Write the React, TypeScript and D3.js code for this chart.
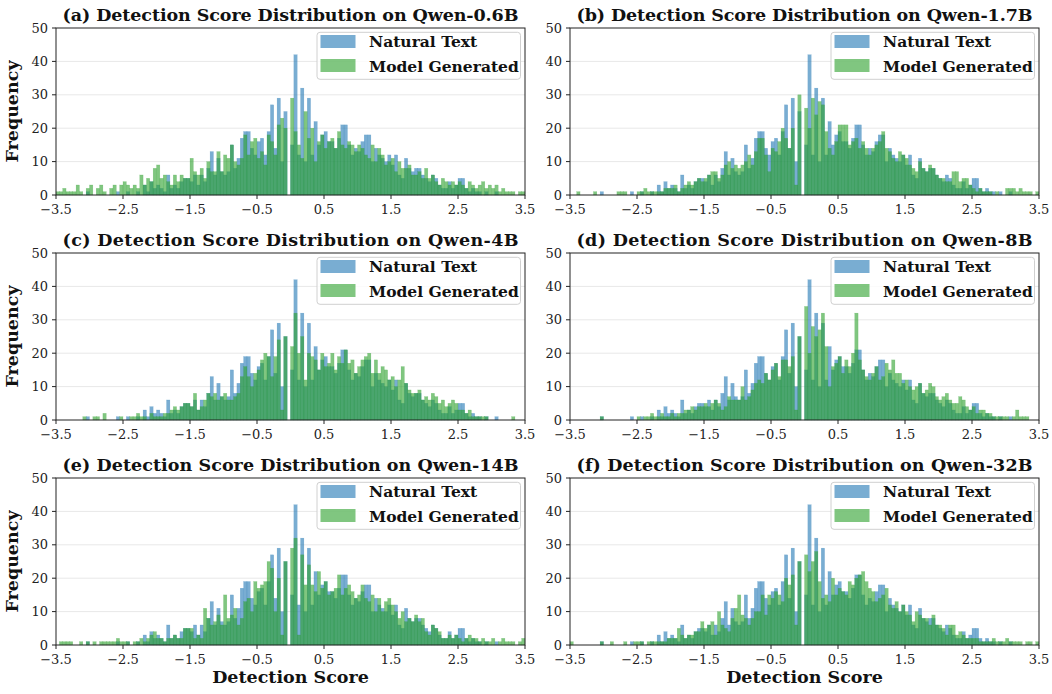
import React from "react";
import * as d3 from "d3";

// histogram bins: 140 bins of width 0.05 from -3.5 to 3.5
const binStart = -3.5;
const binWidth = 0.05;

const models = ["Qwen-0.6B", "Qwen-1.7B", "Qwen-4B", "Qwen-8B", "Qwen-14B", "Qwen-32B"];
const panelTags = ["(a)", "(b)", "(c)", "(d)", "(e)", "(f)"];
const xTicks = [-3.5, -2.5, -1.5, -0.5, 0.5, 1.5, 2.5, 3.5];
const yTicks = [0, 10, 20, 30, 40, 50];

// natural text counts (same in every panel)
const natural = [
  0, 0, 0, 0, 0, 0, 0, 0, 0, 1,
  0, 0, 0, 0, 0, 0, 0, 0, 1, 0,
  0, 1, 0, 0, 1, 0, 3, 1, 4, 2,
  3, 2, 1, 6, 2, 3, 2, 4, 5, 5,
  4, 6, 3, 6, 4, 8, 13, 6, 11, 7,
  6, 7, 15, 8, 11, 17, 19, 19, 14, 12,
  16, 17, 12, 19, 27, 14, 29, 10, 25, 0,
  15, 42, 12, 32, 10, 29, 12, 22, 15, 18,
  19, 16, 16, 14, 17, 21, 21, 15, 12, 14,
  13, 16, 18, 18, 10, 14, 12, 11, 10, 12,
  9, 12, 6, 5, 11, 8, 7, 8, 8, 6,
  5, 4, 6, 5, 3, 2, 2, 4, 2, 3,
  5, 5, 2, 1, 2, 1, 1, 0, 1, 0,
  0, 1, 0, 0, 0, 0, 0, 0, 0, 0,
];

const generated06B = [
  1, 1, 2, 1, 1, 1, 3, 1, 0, 2,
  3, 0, 2, 3, 1, 0, 2, 3, 0, 3,
  4, 3, 2, 3, 2, 6, 3, 5, 4, 8,
  9, 5, 6, 4, 3, 6, 4, 6, 5, 5,
  11, 7, 6, 8, 5, 10, 7, 7, 13, 7,
  12, 11, 15, 10, 9, 11, 18, 12, 16, 17,
  11, 13, 9, 18, 16, 12, 21, 23, 20, 0,
  29, 19, 15, 11, 25, 17, 20, 10, 16, 18,
  14, 16, 17, 14, 19, 15, 14, 16, 15, 13,
  15, 14, 12, 11, 15, 10, 14, 12, 9, 10,
  11, 7, 10, 8, 8, 9, 6, 6, 7, 5,
  8, 5, 6, 4, 3, 5, 4, 3, 4, 3,
  4, 3, 2, 4, 3, 2, 3, 4, 2, 3,
  2, 3, 1, 2, 1, 1, 1, 0, 1, 1,
];

const generated17B = [
  0, 0, 1, 0, 0, 0, 0, 1, 0, 0,
  0, 0, 0, 0, 1, 1, 1, 0, 0, 0,
  1, 1, 2, 1, 1, 1, 1, 1, 2, 2,
  2, 3, 1, 2, 3, 4, 3, 4, 5, 4,
  5, 6, 7, 7, 5, 6, 9, 10, 8, 9,
  8, 9, 10, 12, 9, 13, 17, 17, 12, 7,
  14, 13, 16, 20, 17, 14, 20, 3, 30, 0,
  26, 20, 29, 24, 28, 27, 19, 14, 12, 16,
  21, 21, 21, 15, 16, 17, 14, 16, 14, 12,
  14, 15, 16, 19, 14, 13, 11, 10, 13, 12,
  11, 9, 8, 7, 10, 8, 7, 9, 8, 6,
  5, 5, 4, 4, 7, 7, 4, 5, 5, 3,
  2, 1, 2, 1, 1, 1, 0, 1, 0, 0,
  2, 2, 2, 1, 2, 1, 1, 1, 0, 1,
];

const generated4B = [
  0, 0, 0, 0, 0, 0, 0, 0, 1, 0,
  0, 1, 1, 0, 2, 0, 0, 0, 0, 1,
  0, 0, 1, 1, 2, 1, 1, 0, 2, 1,
  1, 1, 2, 2, 3, 4, 3, 4, 5, 5,
  4, 8, 3, 4, 6, 8, 7, 8, 6, 7,
  8, 6, 6, 7, 8, 13, 16, 13, 10, 14,
  15, 18, 20, 19, 13, 19, 24, 3, 25, 0,
  22, 32, 20, 25, 12, 20, 19, 18, 15, 20,
  16, 17, 20, 15, 19, 17, 21, 17, 18, 14,
  16, 18, 19, 20, 14, 18, 14, 16, 15, 12,
  13, 10, 12, 16, 11, 9, 8, 8, 9, 6,
  7, 6, 8, 7, 5, 6, 4, 5, 6, 5,
  3, 3, 2, 3, 1, 1, 1, 1, 1, 0,
  0, 0, 0, 0, 0, 0, 1, 0, 0, 0,
];

const generated8B = [
  0, 0, 0, 0, 0, 0, 0, 0, 0, 1,
  0, 0, 0, 0, 0, 0, 0, 0, 0, 0,
  1, 0, 1, 1, 2, 1, 1, 2, 1, 1,
  2, 1, 2, 2, 3, 3, 4, 3, 4, 4,
  5, 4, 5, 6, 5, 3, 4, 7, 6, 6,
  6, 10, 6, 7, 9, 11, 12, 11, 14, 12,
  15, 17, 13, 18, 18, 16, 19, 3, 25, 0,
  34, 20, 28, 25, 27, 32, 22, 10, 16, 17,
  19, 14, 18, 16, 20, 32, 18, 15, 13, 12,
  14, 16, 12, 13, 17, 15, 18, 14, 14, 11,
  12, 10, 9, 10, 11, 8, 9, 11, 10, 7,
  6, 7, 8, 6, 5, 5, 7, 6, 4, 3,
  4, 2, 3, 3, 2, 2, 1, 1, 1, 1,
  1, 0, 1, 3, 1, 1, 1, 0, 0, 0,
];

const generated14B = [
  0, 1, 1, 1, 1, 0, 0, 1, 0, 1,
  0, 1, 0, 1, 1, 1, 1, 1, 2, 1,
  1, 1, 0, 1, 1, 2, 1, 2, 3, 4,
  2, 2, 1, 2, 2, 3, 2, 2, 5, 5,
  5, 2, 3, 2, 11, 8, 6, 7, 9, 6,
  15, 8, 9, 11, 6, 8, 13, 14, 10, 19,
  17, 18, 19, 25, 23, 10, 20, 3, 25, 0,
  29, 32, 3, 27, 18, 24, 18, 16, 22, 17,
  19, 15, 16, 17, 21, 15, 17, 18, 16, 14,
  15, 18, 14, 13, 15, 10, 14, 10, 13, 14,
  12, 10, 8, 10, 7, 8, 7, 9, 7, 8,
  4, 3, 6, 5, 4, 2, 2, 3, 2, 3,
  2, 1, 2, 3, 2, 2, 1, 2, 1, 1,
  2, 0, 1, 2, 1, 1, 1, 0, 1, 2,
];

const generated32B = [
  1, 0, 0, 0, 0, 0, 0, 0, 0, 1,
  0, 0, 1, 0, 0, 0, 1, 0, 0, 1,
  1, 1, 0, 1, 1, 1, 1, 1, 1, 2,
  2, 2, 5, 3, 2, 3, 3, 4, 4, 7,
  5, 6, 7, 3, 10, 6, 5, 4, 8, 11,
  15, 9, 8, 6, 8, 10, 10, 15, 9, 15,
  14, 16, 15, 13, 20, 18, 21, 6, 25, 0,
  27, 22, 25, 28, 19, 14, 15, 13, 20, 15,
  17, 16, 15, 19, 18, 20, 21, 22, 19, 17,
  16, 13, 14, 15, 17, 12, 11, 13, 10, 12,
  10, 9, 7, 10, 9, 8, 8, 6, 9, 6,
  6, 5, 3, 6, 6, 3, 4, 3, 2, 2,
  2, 2, 1, 1, 1, 1, 2, 1, 1, 1,
  2, 1, 1, 1, 1, 0, 1, 1, 0, 1,
];

const generatedByModel = [generated06B, generated17B, generated4B, generated8B, generated14B, generated32B];

const BLUE = "#1f77b4";
const GREEN = "#2ca02c";
const FONT = "'DejaVu Serif', serif";

const W = 1052;
const H = 694;
const colX = [56, 570];
const rowY = [28, 253, 478];
const plotW = 469;
const plotH = 167;

const fmt = (v: number) => (v < 0 ? "\u2212" + Math.abs(v).toFixed(1) : v.toFixed(1));

function Panel({ idx }: { idx: number }) {
  const col = idx % 2;
  const row = Math.floor(idx / 2);
  const left = colX[col];
  const top = rowY[row];
  const x = d3.scaleLinear().domain([-3.5, 3.5]).range([0, plotW]);
  const y = d3.scaleLinear().domain([0, 50]).range([plotH, 0]);
  const green = generatedByModel[idx];

  const bars = (vals: number[], color: string) =>
    vals.map((v, i) => {
      if (!v) return null;
      const x0 = x(binStart + i * binWidth);
      const x1 = x(binStart + (i + 1) * binWidth);
      return (
        <rect
          key={i}
          x={x0}
          y={y(v)}
          width={x1 - x0}
          height={plotH - y(v)}
          fill={color}
          fillOpacity={0.6}
          stroke={color}
          strokeOpacity={0.35}
          strokeWidth={0.4}
        />
      );
    });

  const lgX = plotW - 208;
  const lgY = 4.3;

  return (
    <g transform={`translate(${left},${top})`}>
      <text
        x={plotW / 2}
        y={-7}
        textAnchor="middle"
        fontFamily={FONT}
        fontWeight="bold"
        fontSize={17.5}
        textLength={456}
        lengthAdjust="spacing"
        fill="#111"
      >
        {`${panelTags[idx]} Detection Score Distribution on ${models[idx]}`}
      </text>
      {yTicks.slice(1, 5).map((t) => (
        <line key={t} x1={0} x2={plotW} y1={y(t)} y2={y(t)} stroke="#e8e8e8" strokeWidth={1} />
      ))}
      <g>{bars(natural, BLUE)}</g>
      <g>{bars(green, GREEN)}</g>
      <rect x={0} y={0} width={plotW} height={plotH} fill="none" stroke="#222" strokeWidth={1} />
      {yTicks.map((t) => (
        <g key={t} transform={`translate(0,${y(t)})`}>
          <line x1={-4} x2={0} stroke="#222" />
          <text x={-8} dy="0.36em" textAnchor="end" fontFamily={FONT} fontSize={13} fill="#222">
            {t}
          </text>
        </g>
      ))}
      {xTicks.map((t) => (
        <g key={t} transform={`translate(${x(t)},${plotH})`}>
          <line y1={0} y2={4} stroke="#222" />
          <text y={19} textAnchor="middle" fontFamily={FONT} fontSize={13} fill="#222">
            {fmt(t)}
          </text>
        </g>
      ))}
      <g transform={`translate(${lgX},${lgY})`}>
        <rect x={0} y={0} width={203.5} height={47} rx={3} fill="white" fillOpacity={0.8} stroke="#d0d0d0" />
        <rect x={3.5} y={2.7} width={35} height={13} fill={BLUE} fillOpacity={0.6} />
        <rect x={3.5} y={26.7} width={35} height={13} fill={GREEN} fillOpacity={0.6} />
        <text x={52} y={15} fontFamily={FONT} fontWeight="bold" fontSize={15.5} fill="#111">
          Natural Text
        </text>
        <text x={52} y={39.4} fontFamily={FONT} fontWeight="bold" fontSize={15.5} fill="#111">
          Model Generated
        </text>
      </g>
      {col === 0 && (
        <text
          transform={`translate(-38,${plotH / 2}) rotate(-90)`}
          textAnchor="middle"
          fontFamily={FONT}
          fontWeight="bold"
          fontSize={17.5}
          fill="#111"
        >
          Frequency
        </text>
      )}
      {row === 2 && (
        <text
          x={plotW / 2}
          y={plotH + 38}
          textAnchor="middle"
          fontFamily={FONT}
          fontWeight="bold"
          fontSize={17.5}
          fill="#111"
        >
          Detection Score
        </text>
      )}
    </g>
  );
}

export default function App() {
  return (
    <svg width={W} height={H} style={{ display: "block", position: "absolute", left: 0, top: 0, background: "white" }}>
      {models.map((m, i) => (
        <Panel key={m} idx={i} />
      ))}
    </svg>
  );
}
